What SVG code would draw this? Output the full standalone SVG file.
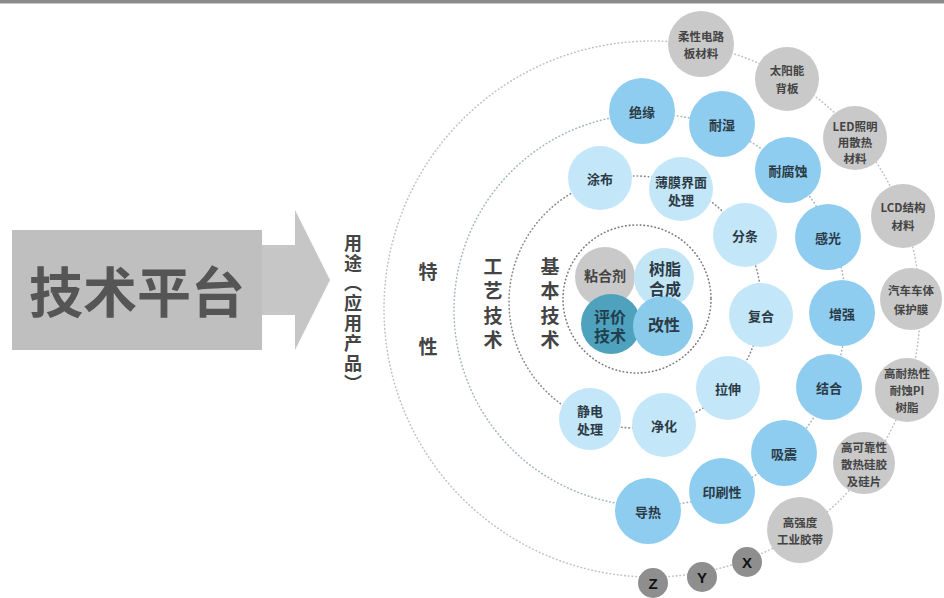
<svg xmlns="http://www.w3.org/2000/svg" width="944" height="598" viewBox="0 0 944 598">
<style>
text{font-family:"Noto Sans CJK SC","Noto Sans",sans-serif;font-weight:700;text-anchor:middle;dominant-baseline:central}
.g{fill:#c9c9c9}
.b{fill:#8ecdf0}
.l{fill:#c3e7f8}
.d{fill:#8e8e8e}
.tg{font-size:11.5px;fill:#444}
.tb{font-size:13px;fill:#2c3a46}
.tc{font-size:16px;fill:#2c3a46}
.lab{font-size:19px;fill:#444}
.vert{font-size:18px;fill:#444;writing-mode:vertical-rl;text-anchor:start;letter-spacing:2px}
.vert2{font-size:19px;fill:#444;writing-mode:vertical-rl;text-anchor:start;letter-spacing:5.5px}
.xyz{font-size:15px;fill:#111;font-family:"Liberation Sans",sans-serif}
.ring{fill:none;stroke-linecap:round;stroke-width:1.6}
</style>
<rect x="0" y="0" width="944" height="598" fill="#fff"/>
<rect x="0" y="0" width="944" height="3" fill="#8a8a8a"/>
<line x1="0" y1="3.5" x2="944" y2="3.5" stroke="#c8c8c8" stroke-width="1"/>

<g id="platform">
<rect x="12" y="230" width="250" height="120" fill="#bfbfbf"/>
<polygon points="262,245 295,245 295,210 330,280 295,350 295,315 262,315" fill="#c6c6c6"/>
<text x="137" y="289" style="font-size:54px;fill:#555">技术平台</text>
</g>

<g id="connectors">
<circle class="ring" cx="652" cy="309" r="268" stroke="#c2c2c2" stroke-dasharray="0.5 3.2"/>
<circle class="ring" cx="650" cy="310" r="196" stroke="#a6b6ba" stroke-dasharray="0.5 3.2"/>
<circle class="ring" cx="635" cy="302" r="126" stroke="#8a8a8a" stroke-dasharray="0.5 3.2"/>
<circle class="ring" cx="637" cy="299" r="74" stroke="#7a7a7a" stroke-dasharray="0.5 3.2"/>
</g>

<g id="labels">
<text class="vert" x="353" y="234">用途（应用产品）</text>
<text class="lab" x="428" y="270">特</text>
<text class="lab" x="428" y="345">性</text>
<text class="vert2" x="493" y="257">工艺技术</text>
<text class="vert2" x="550" y="257">基本技术</text>
</g>

<g id="n-rouxing"><circle class="g" cx="701" cy="44" r="33"/><text class="tg" x="701" y="36">柔性电路<tspan x="701" dy="17">板材料</tspan></text></g>
<g id="n-taiyang"><circle class="g" cx="787" cy="79" r="32"/><text class="tg" x="787" y="70">太阳能<tspan x="787" dy="18">背板</tspan></text></g>
<g id="n-led"><circle class="g" cx="855" cy="138" r="32"/><text class="tg" x="855" y="126">LED照明<tspan x="855" dy="16">用散热</tspan><tspan x="855" dy="16">材料</tspan></text></g>
<g id="n-lcd"><circle class="g" cx="903" cy="216" r="32"/><text class="tg" x="903" y="207">LCD结构<tspan x="903" dy="18">材料</tspan></text></g>
<g id="n-qiche"><circle class="g" cx="911" cy="299" r="31"/><text class="tg" x="911" y="290">汽车车体<tspan x="911" dy="19">保护膜</tspan></text></g>
<g id="n-gaonaire"><circle class="g" cx="907" cy="390" r="32"/><text class="tg" x="907" y="373">高耐热性<tspan x="907" dy="17">耐蚀PI</tspan><tspan x="907" dy="17">树脂</tspan></text></g>
<g id="n-gaokekao"><circle class="g" cx="864" cy="463" r="31"/><text class="tg" x="864" y="447">高可靠性<tspan x="864" dy="17">散热硅胶</tspan><tspan x="864" dy="17">及硅片</tspan></text></g>
<g id="n-gaoqiang"><circle class="g" cx="800" cy="530" r="33"/><text class="tg" x="800" y="522">高强度<tspan x="800" dy="17">工业胶带</tspan></text></g>
<g id="n-x"><circle class="d" cx="747" cy="562" r="15"/><text class="xyz" x="747" y="562">X</text></g>
<g id="n-y"><circle class="d" cx="702" cy="577" r="15"/><text class="xyz" x="702" y="577">Y</text></g>
<g id="n-z"><circle class="d" cx="653" cy="583" r="15"/><text class="xyz" x="653" y="583">Z</text></g>

<g id="n-jueyuan"><circle class="b" cx="642" cy="111" r="33"/><text class="tb" x="642" y="111">绝缘</text></g>
<g id="n-naishi"><circle class="b" cx="722" cy="124" r="33"/><text class="tb" x="722" y="124">耐湿</text></g>
<g id="n-naifushi"><circle class="b" cx="788" cy="170" r="33"/><text class="tb" x="788" y="170">耐腐蚀</text></g>
<g id="n-ganguang"><circle class="b" cx="828" cy="237" r="33"/><text class="tb" x="828" y="237">感光</text></g>
<g id="n-zengqiang"><circle class="b" cx="842" cy="313" r="33"/><text class="tb" x="842" y="313">增强</text></g>
<g id="n-jiehe"><circle class="b" cx="829" cy="387" r="33"/><text class="tb" x="829" y="387">结合</text></g>
<g id="n-xizhen"><circle class="b" cx="784" cy="453" r="33"/><text class="tb" x="784" y="453">吸震</text></g>
<g id="n-yinshua"><circle class="b" cx="722" cy="491" r="33"/><text class="tb" x="722" y="491">印刷性</text></g>
<g id="n-daore"><circle class="b" cx="648" cy="511" r="33"/><text class="tb" x="648" y="511">导热</text></g>

<g id="n-tubu"><circle class="l" cx="600" cy="178" r="32"/><text class="tb" x="600" y="178">涂布</text></g>
<g id="n-bomo"><circle class="l" cx="681" cy="189" r="32"/><text class="tb" x="681" y="181">薄膜界面<tspan x="681" dy="18">处理</tspan></text></g>
<g id="n-fentiao"><circle class="l" cx="745" cy="235" r="32"/><text class="tb" x="745" y="235">分条</text></g>
<g id="n-fuhe"><circle class="l" cx="761" cy="315" r="32"/><text class="tb" x="761" y="315">复合</text></g>
<g id="n-lashen"><circle class="l" cx="728" cy="388" r="32"/><text class="tb" x="728" y="388">拉伸</text></g>
<g id="n-jinghua"><circle class="l" cx="664" cy="425" r="32"/><text class="tb" x="664" y="425">净化</text></g>
<g id="n-jingdian"><circle class="l" cx="590" cy="419" r="31"/><text class="tb" x="590" y="410">静电<tspan x="590" dy="18">处理</tspan></text></g>

<g id="core-shapes">
<circle class="g" cx="605" cy="277" r="30"/>
<circle fill="#c3e6f7" cx="664" cy="278" r="30"/>
<circle fill="#4fa2be" cx="611" cy="324" r="30"/>
<circle fill="#8acbec" cx="663" cy="326" r="30"/>
</g>
<g id="n-nianheji"><text class="tb" x="605" y="275" style="font-size:14px;fill:#444">粘合剂</text></g>
<g id="n-shuzhi"><text class="tc" x="665" y="268">树脂<tspan x="665" dy="20">合成</tspan></text></g>
<g id="n-pingjia"><text class="tc" x="610" y="316" style="fill:#1f3f4f">评价<tspan x="610" dy="19">技术</tspan></text></g>
<g id="n-gaixing"><text class="tc" x="664" y="324">改性</text></g>
</svg>
